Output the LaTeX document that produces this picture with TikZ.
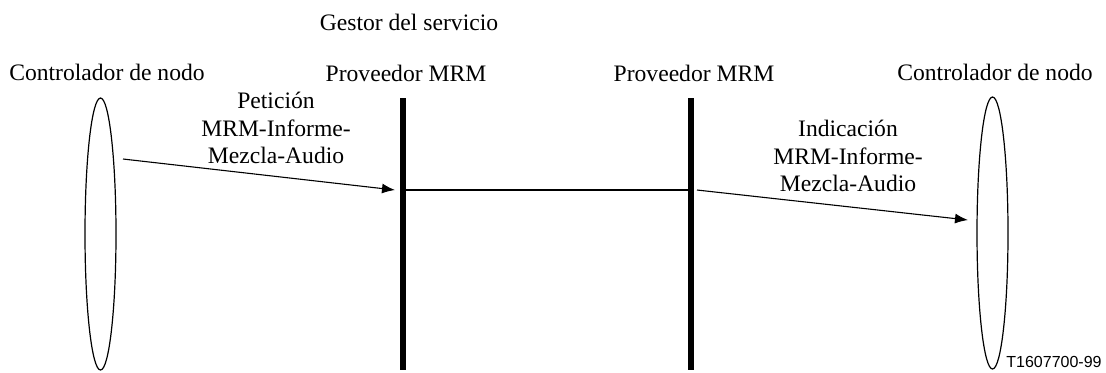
\documentclass[tikz,border=0pt]{standalone}
\usepackage{fontspec}
\setmainfont{Liberation Serif}
\newfontfamily\tagfont{Liberation Sans}
\usetikzlibrary{shapes.geometric,arrows.meta}

\begin{document}
\begin{tikzpicture}[
    x=0.5pt, y=-0.5pt,
    rolelbl/.style={font=\fontsize{11.8}{13.75}\selectfont, anchor=base, inner sep=0pt},
    msglbl/.style={font=\fontsize{11.8}{13.75}\selectfont, align=center, inner sep=0pt},
    ctrlbox/.style={draw, ellipse, line width=0.6pt, minimum width=15.5pt,
      minimum height=136pt, inner sep=0pt},
    provline/.style={line width=3pt},
    tieline/.style={line width=0.55pt},
    msgarrow/.style={line width=0.55pt, -{Latex[length=6.5pt,width=5pt]}}
  ]
  \useasboundingbox (0,0) rectangle (1106,372);

  % controladores de nodo
  \node[ctrlbox] (ctrlA) at (100.5,234) {};
  \node[ctrlbox] (ctrlB) at (992.5,233) {};
  \node[rolelbl] (ctrlAlbl) at (107,80) {Controlador de nodo};
  \node[rolelbl] (ctrlBlbl) at (995,80) {Controlador de nodo};

  % proveedores MRM
  \node[rolelbl] (gestor) at (409,30) {Gestor del servicio};
  \foreach \x/\nm in {403/provA, 691/provB}{
    \coordinate (\nm-top) at (\x,98);
    \coordinate (\nm-bot) at (\x,370);
    \coordinate (\nm-mid) at (\x,190);
    \node[rolelbl] (\nm-lbl) at ({\x+3},81) {Proveedor MRM};
    \draw[provline] (\nm-top) -- (\nm-bot);
  }
  \draw[tieline] (provA-mid) -- (provB-mid);

  % mensajes
  \coordinate (reqsrc) at (123,159);
  \coordinate (reqdst) at (395,190);
  \coordinate (indsrc) at (697,190);
  \coordinate (inddst) at (968,220);
  \draw[msgarrow] (reqsrc) -- (reqdst);
  \draw[msgarrow] (indsrc) -- (inddst);
  \node[msglbl] (reqlbl) at (276,128) {Petición\\MRM-Informe-\\Mezcla-Audio};
  \node[msglbl] (indlbl) at (848,156) {Indicación\\MRM-Informe-\\Mezcla-Audio};

  \node[font=\tagfont\fontsize{8}{9}\selectfont, inner sep=0pt] (figtag) at (1054,362) {T1607700-99};
\end{tikzpicture}
\end{document}
